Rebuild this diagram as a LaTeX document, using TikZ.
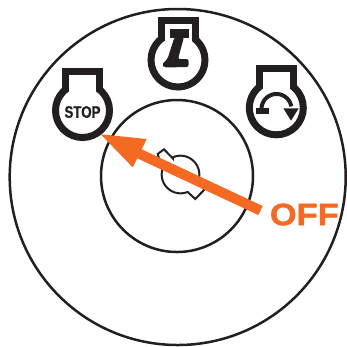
\documentclass[tikz,border=0pt]{standalone}
\usepackage{fontspec}
\setmainfont{Liberation Sans}
\newfontfamily\stopfont[FakeBold=0.6,FakeStretch=0.8]{Liberation Sans}
\newfontfamily\offfont[FakeBold=1.6,FakeStretch=1.12]{Liberation Sans}
\definecolor{keyorange}{HTML}{F56A23}
\definecolor{keyblack}{HTML}{231F20}
\tikzset{
    ring/.style={draw=keyblack, line width=0.05cm},
    bulb/.style={draw=keyblack, line width=0.14cm, line join=miter},
}
\begin{document}
\begin{tikzpicture}[x=0.02cm,y=-0.02cm]
    \useasboundingbox (0,0) rectangle (347,346);

    %circles
    \draw[ring] (177.7,177) circle[radius=168];
    \draw[ring] (177,176) circle[radius=76];

    %key slot
    \draw[ring, line width=0.04cm, line join=miter]
        (157.7,154) -- (164,149.3) -- (172.7,158.3)
        -- plot[domain=-115:10,samples=40] ({180.5+18.8*cos(\x)},{174.5+18.8*sin(\x)})
        -- (204,190) -- (195.3,199) -- (187.3,191.7)
        -- plot[domain=68:194,samples=40] ({180.5+18.8*cos(\x)},{174.5+18.8*sin(\x)})
        -- cycle;

    %icon bodies
    \foreach \cx/\cy in {82.5/110.5, 178/60, 276.3/107.8} {
        \draw[bulb] (\cx,\cy) circle[radius=27];
        \draw[bulb] (\cx-17,\cy-19.5) -- (\cx-17,\cy-39.5) -- (\cx+17,\cy-39.5) -- (\cx+17,\cy-19.5);
        \fill[white] (\cx-13.5,\cy-36) rectangle (\cx+13.5,\cy-19);
    }

    %stop icon
    \node[font=\stopfont\bfseries\fontsize{9.5}{11}\selectfont, text=keyblack] (stoplabel) at (82.5,112) {STOP};

    %run icon
    \fill[keyblack] (170,29.3) rectangle (189.3,38.3);
    \fill[keyblack, rounded corners=0.04cm] (174.5,37) -- (184,37) -- (178,59) -- (188.5,59)
        -- (188.5,67) -- (164,67.5) -- (161.7,64.5) -- (167.5,59) -- cycle;

    %start icon
    \draw[keyblack, line width=0.08cm] plot[domain=180:350,samples=30] ({276.5+15*cos(\x)},{109+15*sin(\x)});
    \fill[keyblack] (256,108.3) rectangle (269,114);
    \fill[keyblack] (283.3,108.3) -- (298.7,108.3) -- (291,120.7) -- cycle;

    %arrow
    \fill[keyorange] (100.7,134.3) -- (146.7,139) -- (141.7,149.3) -- (262.7,206) -- (258.3,215)
        -- (137.3,158.3) -- (132.7,167.3) -- cycle;
    \node[font=\offfont\bfseries\fontsize{17.5}{20}\selectfont, text=keyorange] (offlabel) at (304.3,214.5) {OFF};
\end{tikzpicture}
\end{document}
